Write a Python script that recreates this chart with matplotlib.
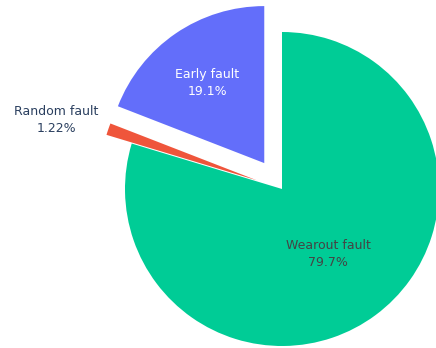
import matplotlib.pyplot as plt

# 故障类型统计
labels = ['Wearout fault', 'Random fault', 'Early fault']
counts = [196, 3, 47]
pulls = [0, 0.17, 0.2]
colors = ['#00cc96', '#EF553B', '#636efa']

plt.rcParams['font.family'] = ['DejaVu Sans']

fig = plt.figure(figsize=(4.36, 3.48), dpi=100)
ax = fig.add_axes([0, 0, 1, 1])

wedges, _ = ax.pie(counts, explode=pulls, colors=colors, startangle=90,
                   counterclock=False, radius=1, center=(0, 0))

total = sum(counts)
pct = [c / total * 100 for c in counts]


def fmt(p):
    # 三位有效数字
    return f'{p:.3g}%'


# 标签位置 (像素 -> 数据坐标, 圆心 (282, 189), 半径 157)
def px(x, y):
    return (x - 282) / 157, (189 - y) / 157


ax.text(*px(328, 254), f'{labels[0]}\n{fmt(pct[0])}', ha='center', va='center',
        fontsize=9, color='#444444', linespacing=1.35)
ax.text(*px(56, 120), f'{labels[1]}\n{fmt(pct[1])}', ha='center', va='center',
        fontsize=9, color='#2a3f5f', linespacing=1.35)
ax.text(*px(207, 83), f'{labels[2]}\n{fmt(pct[2])}', ha='center', va='center',
        fontsize=9, color='white', linespacing=1.35)

ax.set_xlim(-282 / 157, 154 / 157)
ax.set_ylim((189 - 348) / 157, 189 / 157)
ax.set_aspect('equal')
ax.axis('off')

fig.savefig('out.png', dpi=100)
